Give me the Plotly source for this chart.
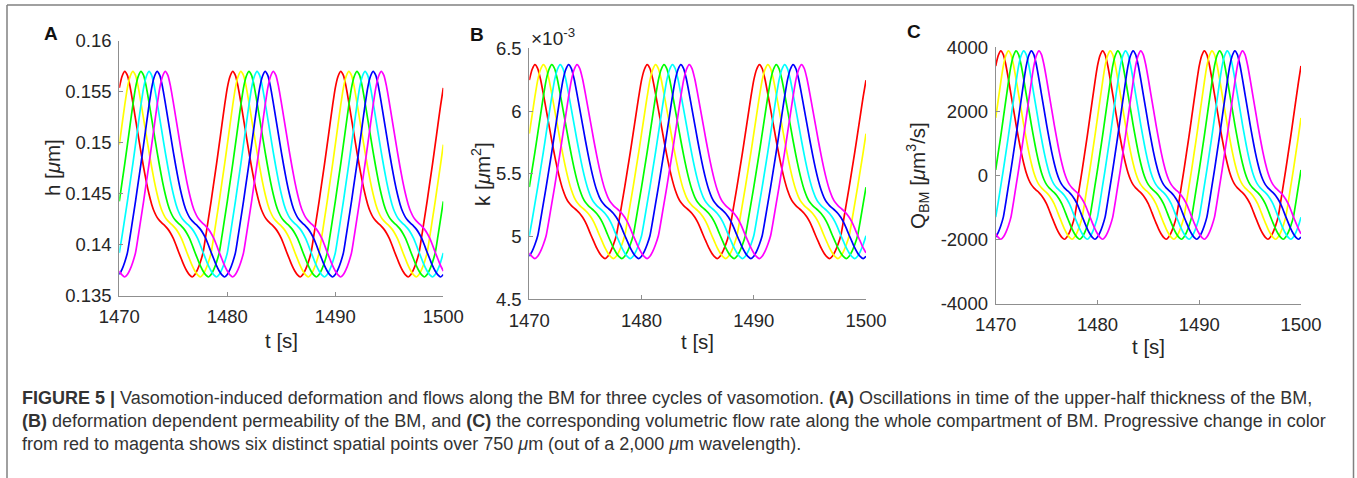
import plotly.graph_objects as go

W, H = 1357, 478

# ---------------- data ----------------
t_start, t_end, t_step = 1470.0, 1500.0, 0.25

series_names = ["point 1", "point 2", "point 3", "point 4", "point 5", "point 6"]
series_colors = ["#ff0000", "#ffff00", "#00ff00", "#00ffff", "#0000ff", "#ff00ff"]
# lag of each spatial point behind the red one, in samples of t_step (0.75 s apart)
series_lag_steps = [0, 3, 6, 9, 12, 15]

# one vasomotion cycle (10 s) of the red curve, normalised 0..1, sampled every 0.25 s from t = 1470
cycle_shape = [
    0.920, 0.975, 1.000, 0.980, 0.925, 0.850, 0.770, 0.690, 0.610, 0.535,
    0.465, 0.405, 0.355, 0.318, 0.292, 0.275, 0.262, 0.250, 0.235, 0.215,
    0.190, 0.158, 0.123, 0.090, 0.058, 0.032, 0.013, 0.003, 0.015, 0.040,
    0.075, 0.120, 0.200, 0.285, 0.370, 0.460, 0.550, 0.645, 0.740, 0.835,
]

h_min, h_max = 0.1368, 0.1570      # um
k_min, k_max = 4.82, 6.37          # x1e-3 um^2
q_min, q_max = -2000.0, 3890.0     # um^3/s

x_ticks = [1470, 1480, 1490, 1500]
x_ticktext = ["1470", "1480", "1490", "1500"]
h_ticks = [0.135, 0.14, 0.145, 0.15, 0.155, 0.16]
h_ticktext = ["0.135", "0.14", "0.145", "0.15", "0.155", "0.16"]
k_ticks = [4.5, 5, 5.5, 6, 6.5]
k_ticktext = ["4.5", "5", "5.5", "6", "6.5"]
q_ticks = [-4000, -2000, 0, 2000, 4000]
q_ticktext = ["-4000", "-2000", "0", "2000", "4000"]

caption_lines = [
    "<b>FIGURE 5 |</b> Vasomotion-induced deformation and flows along the BM for three cycles of vasomotion. "
    "<b>(A)</b> Oscillations in time of the upper-half thickness of the BM,",
    "<b>(B)</b> deformation dependent permeability of the BM, and <b>(C)</b> the corresponding volumetric flow rate "
    "along the whole compartment of BM. Progressive change in color",
    "from red to magenta shows six distinct spatial points over 750 <i>μ</i>m (out of a 2,000 <i>μ</i>m wavelength).",
]

# ---------------- build ----------------
n = int(round((t_end - t_start) / t_step)) + 1
times = [t_start + i * t_step for i in range(n)]
ncyc = len(cycle_shape)


def series_norm(lag):
    return [cycle_shape[(i - lag) % ncyc] for i in range(n)]


FONT = "Liberation Sans, Arial, Helvetica, sans-serif"
TXT = "#262626"
AXC = "#8f8f8f"


def px_x(p):
    return p / W


def px_y(p):
    return 1 - p / H


panels = [
    ("", 119.3, 443.3, 40.7, 296.0, h_min, h_max, h_ticks, h_ticktext, [0.135, 0.16]),
    ("2", 529.3, 866.0, 48.3, 299.3, k_min, k_max, k_ticks, k_ticktext, [4.5, 6.5]),
    ("3", 995.7, 1301.0, 47.3, 304.0, q_min, q_max, q_ticks, q_ticktext, [-4000, 4000]),
]

fig = go.Figure()
layout = dict(
    width=W, height=H, autosize=False,
    margin=dict(l=0, r=0, t=0, b=0, pad=0, autoexpand=False),
    paper_bgcolor="white", plot_bgcolor="white",
    showlegend=False,
    font=dict(family=FONT, color=TXT),
)

for (suf, x0, x1, yt, yb, lo, hi, yt_vals, yt_text, yr) in panels:
    xa = "x" + suf
    ya = "y" + suf
    for name, col, lag in zip(series_names, series_colors, series_lag_steps):
        vals = [lo + (hi - lo) * s for s in series_norm(lag)]
        fig.add_trace(go.Scatter(
            x=times, y=vals, mode="lines", name=name,
            line=dict(color=col, width=1.7, shape="spline", smoothing=0.6),
            xaxis=xa, yaxis=ya, hoverinfo="skip",
        ))
    common = dict(showline=True, linecolor=AXC, linewidth=1, ticks="inside", ticklen=4,
                  tickcolor=AXC, tickwidth=1, showgrid=False, zeroline=False, automargin=False,
                  tickfont=dict(family=FONT, size=18.5, color=TXT))
    layout["xaxis" + suf] = dict(common, domain=[px_x(x0), px_x(x1)], range=[1470, 1500],
                                 tickvals=x_ticks, ticktext=x_ticktext, anchor=ya,
                                 ticklabelstandoff=4)
    layout["yaxis" + suf] = dict(common, domain=[px_y(yb), px_y(yt)], range=yr,
                                 tickvals=yt_vals, ticktext=yt_text, anchor=xa,
                                 ticklabelstandoff=3)

ann = []


def add_text(text, x, y, size, xanchor="center", yanchor="middle", angle=0, color=TXT):
    ann.append(dict(text=text, x=px_x(x), y=px_y(y), xref="paper", yref="paper",
                    xanchor=xanchor, yanchor=yanchor, textangle=angle, showarrow=False,
                    font=dict(family=FONT, size=size, color=color)))


# panel letters
add_text("<b>A</b>", 51, 33, 19, color="#111111")
add_text("<b>B</b>", 477, 34, 19, color="#111111")
add_text("<b>C</b>", 914, 32, 19, color="#111111")
# multiplier
add_text("×10<sup>-3</sup>", 529, 37, 19, xanchor="left")
# axis titles
add_text("t [s]", 281, 340, 20.5)
add_text("t [s]", 697, 341, 20.5)
add_text("t [s]", 1148, 346, 20.5)
add_text("h [<i>μ</i>m]", 52, 168, 20.5, angle=-90)
add_text("k [<i>μ</i>m<sup>2</sup>]", 481, 174, 20.5, angle=-90)
add_text("Q<sub>BM</sub> [<i>μ</i>m<sup>3</sup>/s]", 917, 176, 20.5, angle=-90)
# caption
for i, line in enumerate(caption_lines):
    add_text(line, 20, 398 + 23 * i, 18, xanchor="left", color="#333333")

layout["annotations"] = ann

# outer frame of the figure panel
FR = "#808080"
layout["shapes"] = [
    dict(type="line", xref="paper", yref="paper", x0=px_x(7), x1=px_x(7), y0=px_y(5), y1=0,
         line=dict(color=FR, width=1.5)),
    dict(type="line", xref="paper", yref="paper", x0=px_x(7), x1=px_x(1353.5), y0=px_y(5), y1=px_y(5),
         line=dict(color=FR, width=1.5)),
    dict(type="line", xref="paper", yref="paper", x0=px_x(1353.5), x1=px_x(1353.5), y0=px_y(5), y1=0,
         line=dict(color=FR, width=1.5)),
]

fig.update_layout(**layout)
fig.write_html(
    "out.html",
    config={"displayModeBar": False, "responsive": False},
    post_script="document.body.style.margin='0';document.body.style.padding='0';"
                "document.body.style.overflow='hidden';",
)
